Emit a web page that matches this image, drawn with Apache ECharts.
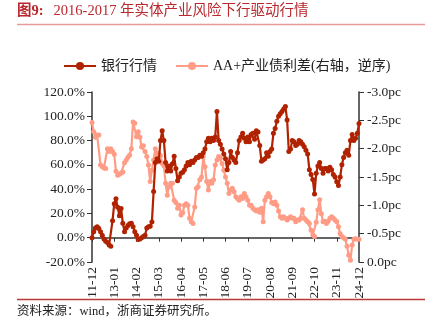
<!DOCTYPE html>
<html>
<head>
<meta charset="utf-8">
<script src="https://cdn.jsdelivr.net/npm/echarts@6/dist/echarts.min.js"></script>
<style>
  html, body { margin: 0; padding: 0; background: #fff; }
  #chart { width: 425px; height: 326px; }
</style>
</head>
<body>
<div id="chart"></div>
<script>
// Monthly series, 2011-12 .. 2024-12
const startYear = 2011, startMonth = 12, monthCount = 157;

// 银行行情 (left axis, %)
const bankIndex = [
  0, 5, 8, 9, 7.5, 5, 2, -1, -3, -4,
  -6, -7, 14, 28, 32, 25, 18, 24, 12, 5,
  8, 10, 11.5, 12, 9, 5, 2, -1.5, -1, 0,
  1, 2, 8, 9, 9.5, 13, 38, 62, 65, 63,
  80, 88, 80, 62, 55, 59, 55, 61, 67, 57,
  47, 50, 53, 54, 56, 59, 62, 60, 63, 62,
  64, 66, 66, 68, 67, 70, 73, 79, 82, 79,
  82, 80, 83, 104, 80, 77, 73, 69, 65, 56,
  62, 71, 66, 64, 62, 70, 80, 83, 86, 82,
  79, 83, 79, 85, 86, 81, 88, 87, 76, 63,
  64, 65, 70, 67, 71, 73, 86, 90, 96, 100,
  102, 104, 106, 108, 97, 71, 73, 80, 79, 76,
  77, 80, 79, 77, 75, 72, 69, 56, 52, 48,
  36, 53, 59, 62, 57, 53, 57, 57, 55, 58,
  56, 52, 50, 46, 43, 50, 60, 66, 70, 72,
  68, 80, 85, 80, 82, 86, 94
];

// AA+产业债利差 (right axis, pc, plotted reversed)
const spread = [
  -2.46, -2.3, -2.2, -2.24, -2.24, -1.71, -1.68, -1.66, -1.65, -2.0,
  -1.95, -2.0, -1.95, -1.9, -1.6, -1.53, -1.55, -1.57, -1.59, -1.75,
  -1.8, -1.85, -1.89, -2.0, -2.47, -2.45, -2.21, -2.3, -2.2, -2.03,
  -2.05, -1.95, -1.86, -1.71, -1.42, -1.62, -1.8, -2.0, -1.9, -1.92,
  -1.88, -1.74, -1.7, -1.39, -1.18, -1.33, -1.39, -1.39, -1.09, -1.05,
  -0.95, -1.0, -0.83, -0.87, -1.0, -1.03, -1.0, -0.77, -0.71, -0.68,
  -0.97, -1.3, -1.33, -1.45, -1.5, -1.86, -1.68, -1.42, -1.27, -1.42,
  -1.39, -1.45, -1.71, -1.8, -1.86, -1.83, -1.74, -1.62, -1.5, -1.39,
  -1.21, -1.27, -1.3, -1.24, -1.15, -1.12, -1.09, -1.15, -1.12, -1.21,
  -1.15, -1.09, -1.0, -1.0, -0.95, -0.92, -0.9, -0.92, -0.88, -0.95,
  -0.71, -1.09, -1.15, -1.21, -1.15, -1.05, -1.03, -1.06, -1.0, -0.9,
  -0.8, -0.77, -0.8, -0.77, -0.74, -0.77, -0.8, -0.77, -0.77, -0.71,
  -0.74, -0.74, -0.77, -0.92, -0.77, -0.74, -0.71, -0.68, -0.56, -0.48,
  -0.45, -0.7, -0.92, -1.1, -0.85, -0.71, -0.72, -0.68, -0.72, -0.77,
  -0.8, -0.77, -0.74, -0.71, -0.62, -0.5, -0.45, -0.43, -0.4, -0.28,
  -0.12, -0.03, -0.3, -0.4, -0.41, -0.4, -0.4
];

// Category labels "YY-MM"
const months = [];
for (let k = 0; k < monthCount; k++) {
  const m0 = startMonth - 1 + k;
  const y = startYear + Math.floor(m0 / 12);
  const m = (m0 % 12) + 1;
  months.push(String(y).slice(2) + '-' + (m < 10 ? '0' : '') + m);
}

const seriesNames = ['银行行情', 'AA+产业债利差(右轴，逆序)'];
const titleText = '2016-2017 年实体产业风险下行驱动行情';
const sourceText = '资料来源：wind，浙商证券研究所。';

const serif = '"Liberation Serif", "Times New Roman", "Noto Sans CJK SC", serif';
const darkRed = '#B02200';
const salmon = '#FF9C86';
const axisColor = '#333333';

const chart = echarts.init(document.getElementById('chart'), null, { renderer: 'canvas' });

chart.setOption({
  animation: false,
  backgroundColor: '#ffffff',
  grid: { left: 92, right: 66, top: 92, bottom: 64, containLabel: false },
  legend: {
    top: 54,
    left: 58,
    itemWidth: 32,
    itemHeight: 10,
    itemGap: 18,
    textStyle: { fontFamily: serif, fontSize: 14, color: '#222' },
    data: seriesNames
  },
  graphic: [
    {
      type: 'text', left: 17, top: 4,
      style: {
        text: '{b|图9:}   {n|' + titleText + '}',
        rich: {
          b: { fontFamily: serif, fontSize: 14.5, fontWeight: 'bold', fill: '#B8282E' },
          n: { fontFamily: serif, fontSize: 14.5, fill: '#B8282E' }
        }
      }
    },
    {
      type: 'line', shape: { x1: 17, y1: 24.5, x2: 425, y2: 24.5 },
      style: { stroke: '#E79A9A', lineWidth: 1.5 }
    },
    {
      type: 'line', shape: { x1: 17, y1: 299.5, x2: 425, y2: 299.5 },
      style: { stroke: '#BC3A3A', lineWidth: 1.5 }
    },
    {
      type: 'text', left: 17, top: 305,
      style: { text: sourceText, fontFamily: serif, fontSize: 12.5, fill: '#222' }
    }
  ],
  xAxis: {
    type: 'category',
    data: months,
    boundaryGap: false,
    axisLine: { onZero: true, onZeroAxisIndex: 0, lineStyle: { color: axisColor, width: 1.5 } },
    axisTick: { show: true, interval: 12, length: 4, inside: false, lineStyle: { color: axisColor } },
    axisLabel: {
      interval: 12, rotate: 90, margin: 5,
      fontFamily: serif, fontSize: 13.5, color: '#222'
    },
    splitLine: { show: false }
  },
  yAxis: [
    {
      type: 'value', min: -20, max: 120, interval: 20, position: 'left',
      axisLine: { show: true, lineStyle: { color: axisColor, width: 1.5 } },
      axisTick: { show: true, length: 5, lineStyle: { color: axisColor } },
      axisLabel: {
        margin: 7, fontFamily: serif, fontSize: 13.5, color: '#222',
        formatter: v => v.toFixed(1) + '%'
      },
      splitLine: { show: false }
    },
    {
      type: 'value', min: -3, max: 0, interval: 0.5, inverse: true, position: 'right',
      axisLine: { show: true, lineStyle: { color: axisColor, width: 1.5 } },
      axisTick: { show: true, length: 5, lineStyle: { color: axisColor } },
      axisLabel: {
        margin: 8, fontFamily: serif, fontSize: 13.5, color: '#222',
        formatter: v => v.toFixed(1) + 'pc'
      },
      splitLine: { show: false }
    }
  ],
  series: [
    {
      name: seriesNames[0], type: 'line', yAxisIndex: 0, data: bankIndex,
      symbol: 'circle', symbolSize: 5, showAllSymbol: true, z: 3,
      itemStyle: { color: darkRed }, lineStyle: { color: darkRed, width: 2.2 }
    },
    {
      name: seriesNames[1], type: 'line', yAxisIndex: 1, data: spread,
      symbol: 'circle', symbolSize: 5, showAllSymbol: true, z: 2,
      itemStyle: { color: salmon }, lineStyle: { color: salmon, width: 2.2 }
    }
  ]
});
</script>
</body>
</html>
